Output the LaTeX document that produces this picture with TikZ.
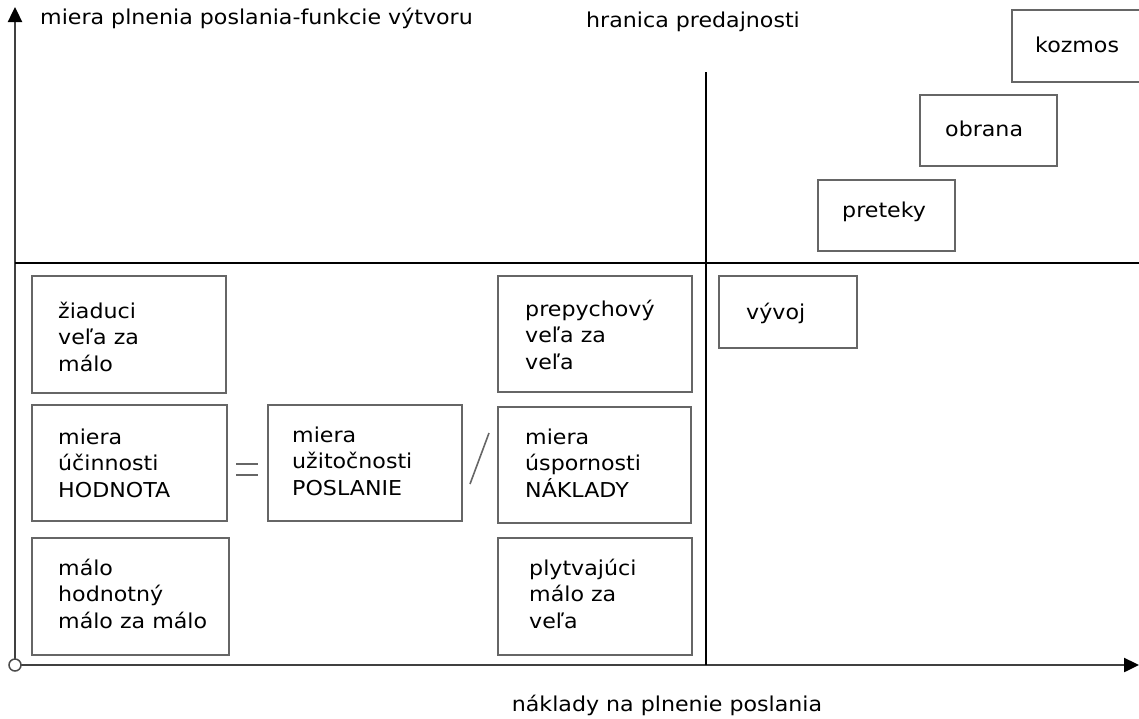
\documentclass[tikz,border=0pt]{standalone}
\usepackage{fontspec}
\setmainfont[FakeStretch=1.08]{DejaVu Sans}
\usetikzlibrary{arrows.meta}
\begin{document}
\begin{tikzpicture}[x=1pt,y=-1pt,
  box/.style={draw=black!60,line width=1.8pt},
  lbl/.style={anchor=base west,inner sep=0pt,align=left,font=\fontsize{20.5}{26.5}\selectfont},
  plain/.style={inner sep=0pt,font=\fontsize{20.5}{26.5}\selectfont},
  axis/.style={draw=black!75,line width=2.4pt},
  grid/.style={draw=black,line width=1.2pt},
  tip/.style={-{Triangle[length=15pt,width=14pt,color=black]}}]
\useasboundingbox (0,0) rectangle (1139,718);

% axes
\coordinate (o) at (15,665);
\coordinate (ytop) at (15,7);
\coordinate (xend) at (1139,665);
\draw[axis,tip] (o) -- (ytop);
\draw[axis,tip] (o) -- (xend);
\node[circle,draw=black!70,fill=white,line width=1.5pt,minimum size=12pt,inner sep=0pt] (oc) at (o) {};

% quadrant lines
\coordinate (hl) at (15,263);
\coordinate (hr) at (1139,263);
\coordinate (vt) at (706,72);
\coordinate (vb) at (706,665);
\draw[grid] (hl) -- (hr);
\draw[grid] (vt) -- (vb);

% axis labels
\node[plain,anchor=west] (ylab) at (40,18) {miera plnenia poslania-funkcie výtvoru};
\node[plain] (hran) at (693,22) {hranica predajnosti};
\node[plain] (xlab) at (667,705) {náklady na plnenie poslania};

% upper right boxes
\draw[box] (1012,10) rectangle (1145,82);
\node[plain,anchor=west] (kozmos) at (1035,45) {kozmos};
\draw[box] (920,95) rectangle (1057,166);
\node[plain,anchor=west] (obrana) at (945,129) {obrana};
\draw[box] (818,180) rectangle (955,251);
\node[plain,anchor=west] (preteky) at (842,212) {preteky};
\draw[box] (719,276) rectangle (857,348);
\node[plain,anchor=west] (vyvoj) at (746,313) {vývoj};

% left column (anchored at the baseline of the last line)
\draw[box] (32,276) rectangle (226,393);
\node[lbl] (ziad) at (58,371) {žiaduci\\veľa za\\málo};
\draw[box] (32,405) rectangle (227,521);
\node[lbl] (ucin) at (58,497) {miera\\účinnosti\\HODNOTA};
\draw[box] (32,538) rectangle (229,655);
\node[lbl] (malo) at (58,628) {málo\\hodnotný\\málo za málo};

% middle
\draw[box] (268,405) rectangle (462,521);
\node[lbl] (uzit) at (292,495) {miera\\užitočnosti\\POSLANIE};

% right column
\draw[box] (498,276) rectangle (692,392);
\node[lbl] (prep) at (525,369) {prepychový\\veľa za\\veľa};
\draw[box] (498,407) rectangle (691,523);
\node[lbl] (uspor) at (525,497) {miera\\úspornosti\\NÁKLADY};
\draw[box] (498,538) rectangle (692,655);
\node[lbl] (plyt) at (529,628) {plytvajúci\\málo za\\veľa};

% equals sign and division slash
\coordinate (e1a) at (236,464); \coordinate (e1b) at (258,464);
\coordinate (e2a) at (236,475); \coordinate (e2b) at (258,475);
\draw[black!60,line width=1.6pt] (e1a) -- (e1b) (e2a) -- (e2b);
\coordinate (s1) at (470,484); \coordinate (s2) at (489,433);
\draw[black!60,line width=1.6pt] (s1) -- (s2);
\end{tikzpicture}
\end{document}
